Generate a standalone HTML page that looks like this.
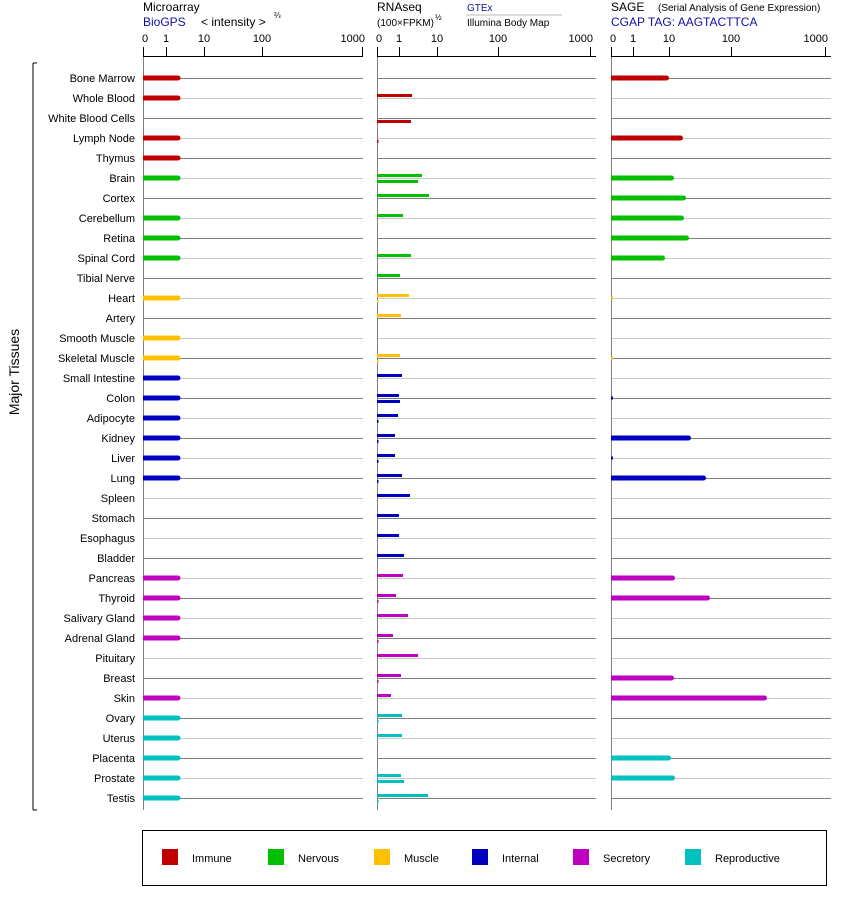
<!DOCTYPE html>
<html><head><meta charset="utf-8"><style>
body{margin:0;background:#fff;}
svg{display:block;font-family:"Liberation Sans",Arial,sans-serif;}
</style></head><body>
<svg id="s" width="842" height="900" xmlns="http://www.w3.org/2000/svg">
<rect width="842" height="900" fill="#fff"/>
<text x="143" y="11" font-size="12">Microarray</text>
<text x="143" y="26" font-size="12" fill="#1010a0">BioGPS</text>
<text x="201" y="26" font-size="12">&lt; intensity &gt;</text>
<text x="274" y="18" font-size="8">⅔</text>
<text x="377" y="11" font-size="12">RNAseq</text>
<text x="377" y="26" font-size="10">(100×FPKM)</text>
<text x="435" y="20" font-size="8">½</text>
<text x="467" y="11" font-size="10" fill="#1010a0">GTEx</text>
<line x1="466" y1="15" x2="562" y2="15" stroke="#bbb"/>
<text x="467" y="26" font-size="10">Illumina Body Map</text>
<text x="611" y="11" font-size="12">SAGE</text>
<text x="658" y="11" font-size="10">(Serial Analysis of Gene Expression)</text>
<text x="611" y="26" font-size="12" fill="#1010a0">CGAP  TAG: AAGTACTTCA</text>
<g id="g"></g>
<line x1="33" y1="63" x2="33" y2="810" stroke="#000"/>
<line x1="33" y1="63" x2="37" y2="63" stroke="#000"/>
<line x1="33" y1="810" x2="37" y2="810" stroke="#000"/>
<text transform="translate(19,372) rotate(-90)" font-size="14" text-anchor="middle">Major Tissues</text>
<rect x="142.5" y="830.5" width="684" height="55" fill="none" stroke="#000"/>
<rect x="162" y="849" width="16" height="16" fill="#c00000"/><text x="192" y="862" font-size="11">Immune</text>
<rect x="268" y="849" width="16" height="16" fill="#00c000"/><text x="298" y="862" font-size="11">Nervous</text>
<rect x="374" y="849" width="16" height="16" fill="#ffc000"/><text x="404" y="862" font-size="11">Muscle</text>
<rect x="472" y="849" width="16" height="16" fill="#0000c0"/><text x="502" y="862" font-size="11">Internal</text>
<rect x="573" y="849" width="16" height="16" fill="#c000c0"/><text x="603" y="862" font-size="11">Secretory</text>
<rect x="685" y="849" width="16" height="16" fill="#00c0c0"/><text x="715" y="862" font-size="11">Reproductive</text>
</svg>
<script>
var C={I:"#c00000",N:"#00c000",M:"#ffc000",T:"#0000c0",S:"#c000c0",R:"#00c0c0"};
var rows=[
["Bone Marrow","I",1,0,0,669],["Whole Blood","I",1,412,0,0],["White Blood Cells","I",0,0,411,0],
["Lymph Node","I",1,0,"s",683],["Thymus","I",1,0,0,0],["Brain","N",1,422,418,674],
["Cortex","N",0,429,0,686],["Cerebellum","N",1,403,0,684],["Retina","N",1,0,0,689],
["Spinal Cord","N",1,411,0,665],["Tibial Nerve","N",0,400,0,0],["Heart","M",1,409,"s","s"],
["Artery","M",0,401,0,0],["Smooth Muscle","M",1,0,0,0],["Skeletal Muscle","M",1,400,"s","s"],
["Small Intestine","T",1,402,0,0],["Colon","T",1,399,400,"s"],["Adipocyte","T",1,398,"s",0],
["Kidney","T",1,395,"s",691],["Liver","T",1,395,"s","s"],["Lung","T",1,402,"s",706],
["Spleen","T",0,410,0,0],["Stomach","T",0,399,0,0],["Esophagus","T",0,399,0,0],
["Bladder","T",0,404,0,0],["Pancreas","S",1,403,0,675],["Thyroid","S",1,396,"s",710],
["Salivary Gland","S",1,408,0,0],["Adrenal Gland","S",1,393,"s",0],["Pituitary","S",0,418,0,0],
["Breast","S",0,401,"s",674],["Skin","S",1,391,0,767],["Ovary","R",1,402,"s",0],
["Uterus","R",1,402,0,0],["Placenta","R",1,0,0,671],["Prostate","R",1,401,404,675],["Testis","R",1,428,"s",0]];
var h="";
function L(x1,y1,x2,y2,c,w){h+='<line x1="'+x1+'" y1="'+y1+'" x2="'+x2+'" y2="'+y2+'" stroke="'+c+'" stroke-width="'+(w||1)+'"/>';}
function R(x,y,w,ht,c){h+='<rect x="'+x+'" y="'+y+'" width="'+w+'" height="'+ht+'" fill="'+c+'"/>';}
function T(x,y,t,s,a,extra){h+='<text x="'+x+'" y="'+y+'" font-size="'+s+'" text-anchor="'+(a||"start")+'" '+(extra||"")+'>'+t+'</text>';}
var panels=[[143,363,[143,166,204,262,362]],[377,596,[377,399,437,498,590]],[611,831,[611,633,669,731,825]]];
var labs=["0","1","10","100","1000"];
panels.forEach(function(p){
  for(var i=0;i<rows.length;i++){var y=78.5+20*i;L(p[0],y,p[1],y,i%2?"#c8c8c8":"#808080");}
  L(p[0]+0.5,56,p[0]+0.5,810,"#808080");
  L(p[0],56.5,p[1],56.5,"#000");
  p[2].forEach(function(x,k){L(x+0.5,47,x+0.5,56,"#000");T(k==4?x+3:x+(k==0?2:0),42,labs[k],11,k==4?"end":"middle");});
});
rows.forEach(function(r,i){
  var y=78+20*i,c=C[r[1]];
  T(135,y+4,r[0],11,"end");
  if(r[2]){R(143,y-2.5,35,5,c);h+='<circle cx="178" cy="'+y+'" r="2.5" fill="'+c+'"/>';}
  if(r[3])R(377,y-4,r[3]-377,3,c);
  if(r[4]==="s")R(377,y+2,1.5,3,c);else if(r[4])R(377,y+2,r[4]-377,3,c);
  if(r[5]==="s")R(611,y-1.5,2,3,c);else if(r[5]){R(611,y-2.5,r[5]-613.5,5,c);h+='<circle cx="'+(r[5]-2.5)+'" cy="'+y+'" r="2.5" fill="'+c+'"/>';}
});
document.getElementById("g").innerHTML=h;
</script>
</body></html>
